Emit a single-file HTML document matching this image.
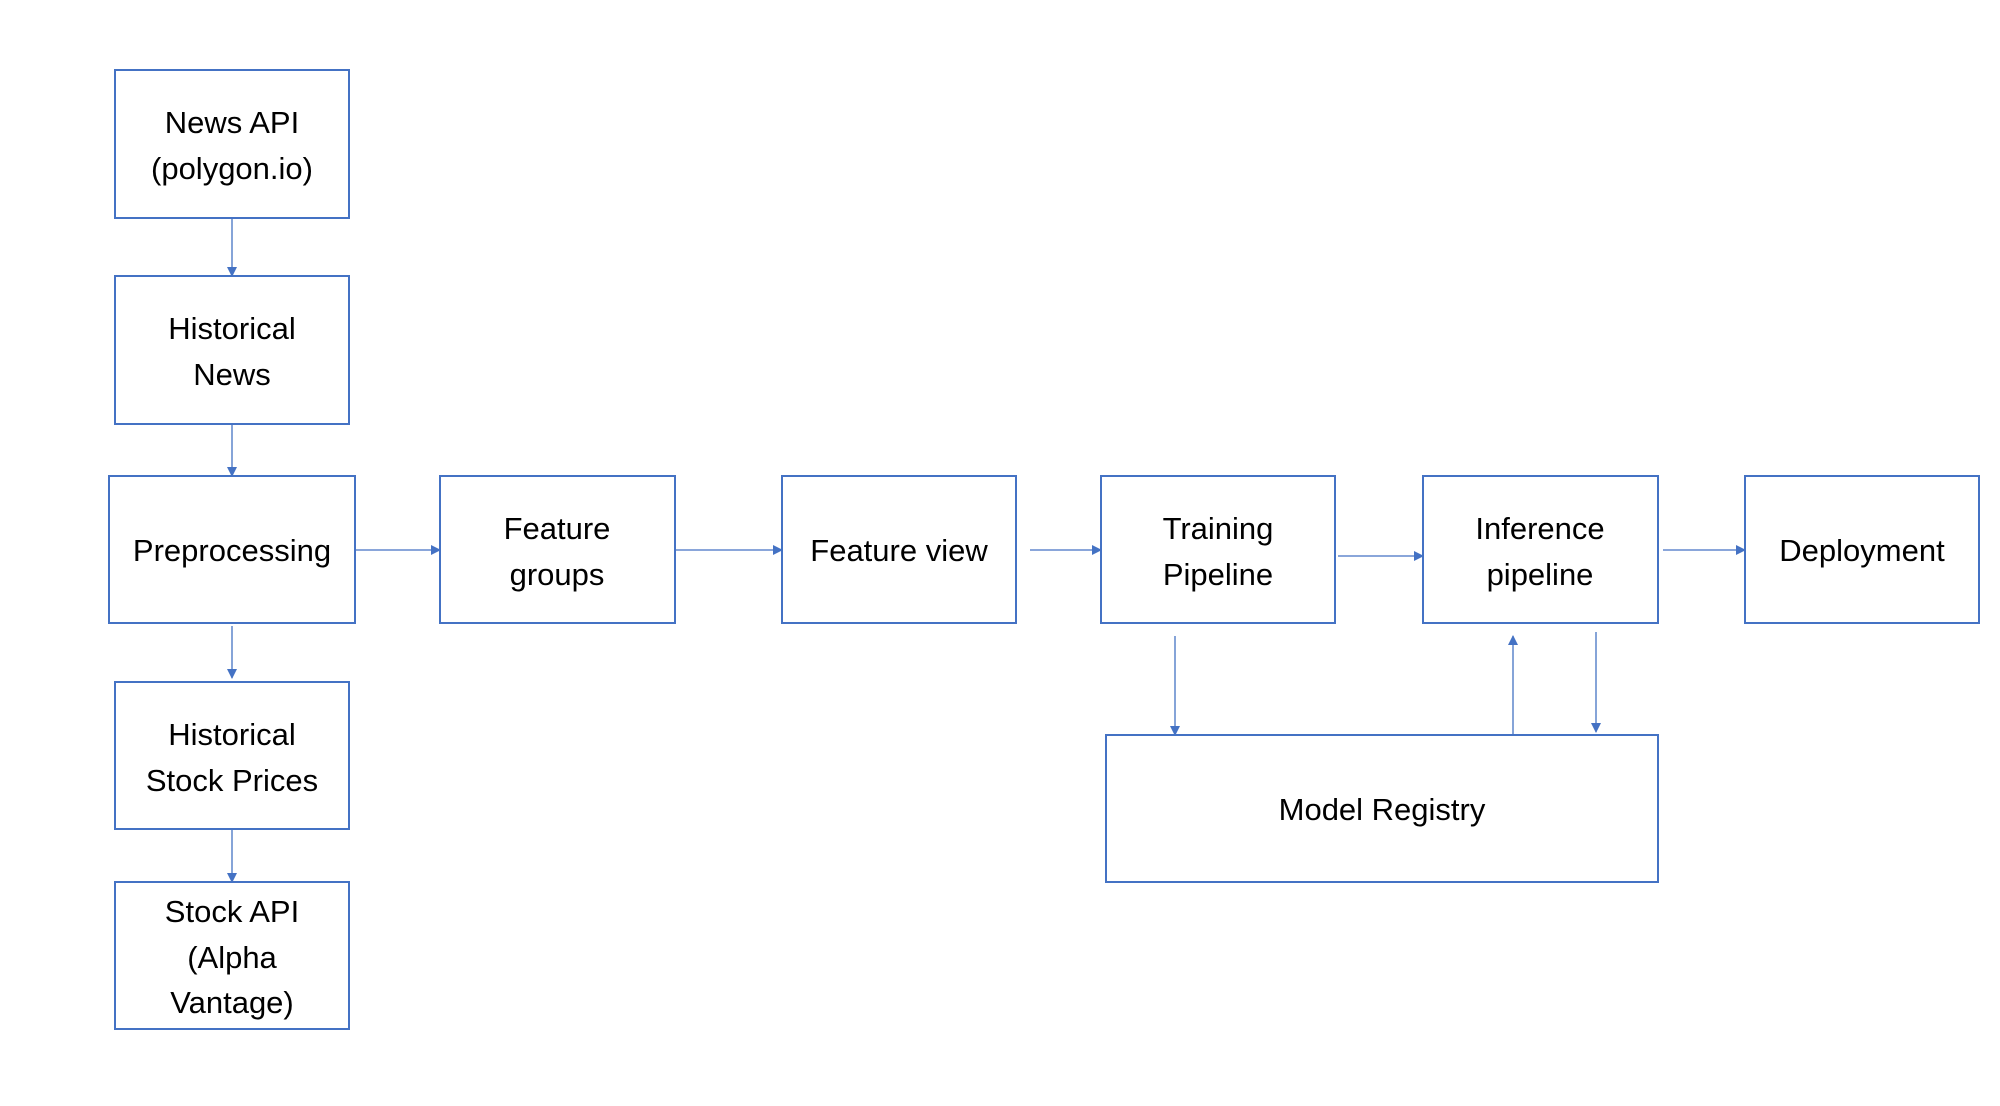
<!DOCTYPE html>
<html><head><meta charset="utf-8"><style>
html,body{margin:0;padding:0;background:#fff;}
svg{display:block}
text{font-family:"Liberation Sans",Arial,sans-serif;font-size:31px;fill:#000;text-anchor:middle;}
</style></head><body>
<svg width="2000" height="1106" viewBox="0 0 2000 1106" xmlns="http://www.w3.org/2000/svg">
<defs><marker id="a" markerWidth="10" markerHeight="10" refX="9" refY="5" orient="auto" markerUnits="userSpaceOnUse"><path d="M0,0 L10,5 L0,10 z" fill="#4472C4"/></marker></defs>
<g fill="none" stroke="#4472C4" stroke-width="2">
<rect x="115" y="70" width="234" height="148"/>
<rect x="115" y="276" width="234" height="148"/>
<rect x="109" y="476" width="246" height="147"/>
<rect x="440" y="476" width="235" height="147"/>
<rect x="782" y="476" width="234" height="147"/>
<rect x="1101" y="476" width="234" height="147"/>
<rect x="1423" y="476" width="235" height="147"/>
<rect x="1745" y="476" width="234" height="147"/>
<rect x="115" y="682" width="234" height="147"/>
<rect x="115" y="882" width="234" height="147"/>
<rect x="1106" y="735" width="552" height="147"/>
</g>
<g stroke="#4472C4" stroke-width="1.3" marker-end="url(#a)">
<line x1="232" y1="218" x2="232" y2="276"/>
<line x1="232" y1="424" x2="232" y2="476"/>
<line x1="232" y1="626" x2="232" y2="678"/>
<line x1="232" y1="829" x2="232" y2="882"/>
<line x1="355" y1="550" x2="440" y2="550"/>
<line x1="675" y1="550" x2="782" y2="550"/>
<line x1="1030" y1="550" x2="1101" y2="550"/>
<line x1="1338" y1="556" x2="1423" y2="556"/>
<line x1="1663" y1="550" x2="1745" y2="550"/>
<line x1="1175" y1="636" x2="1175" y2="735"/>
<line x1="1513" y1="735" x2="1513" y2="636"/>
<line x1="1596" y1="632" x2="1596" y2="732"/>
</g>
<text x="232" y="133">News API</text>
<text x="232" y="179">(polygon.io)</text>
<text x="232" y="339">Historical</text>
<text x="232" y="385">News</text>
<text x="232" y="561">Preprocessing</text>
<text x="557" y="539">Feature</text>
<text x="557" y="585">groups</text>
<text x="899" y="561">Feature view</text>
<text x="1218" y="539">Training</text>
<text x="1218" y="585">Pipeline</text>
<text x="1540" y="539">Inference</text>
<text x="1540" y="585">pipeline</text>
<text x="1862" y="561">Deployment</text>
<text x="232" y="745">Historical</text>
<text x="232" y="791">Stock Prices</text>
<text x="232" y="922">Stock API</text>
<text x="232" y="968">(Alpha</text>
<text x="232" y="1013">Vantage)</text>
<text x="1382" y="820">Model Registry</text>
</svg>
</body></html>
